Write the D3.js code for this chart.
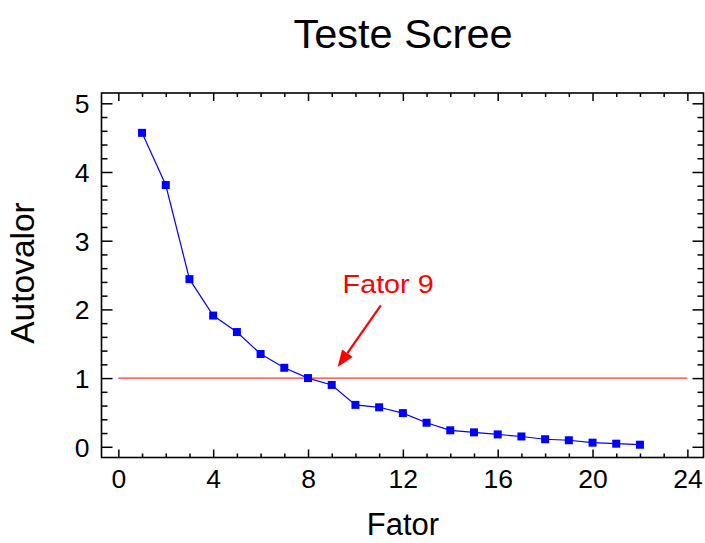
<!DOCTYPE html>
<html>
<head>
<meta charset="utf-8">
<script src="https://cdn.jsdelivr.net/npm/d3@7"></script>
<style>
  body { margin: 0; background: #fff; }
  text { font-family: "Liberation Sans", Arial, sans-serif; }
</style>
</head>
<body>
<div id="chart"></div>
<script>
// scree test data
const fatores = [1, 2, 3, 4, 5, 6, 7, 8, 9, 10, 11, 12, 13, 14, 15, 16, 17, 18, 19, 20, 21, 22];
const autovalores = [4.57, 3.81, 2.44, 1.91, 1.67, 1.35, 1.15, 1.0, 0.90, 0.61, 0.575, 0.49,
                     0.35, 0.24, 0.21, 0.18, 0.15, 0.11, 0.095, 0.06, 0.045, 0.03];
const xTicks = [0, 4, 8, 12, 16, 20, 24];
const yTicks = [0, 1, 2, 3, 4, 5];
const linhaCorte = [{ x: 0, y: 1 }, { x: 24, y: 1 }];
const seta = { from: [11.07, 2.06], to: [9.25, 1.16] };
const rotulo = { x: 9.46, y: 2.24, text: "Fator 9" };

const width = 705, height = 543;
const frame = { left: 101.5, top: 93, right: 703.5, bottom: 457.5 };

const svg = d3.select("#chart").append("svg")
  .attr("width", width)
  .attr("height", height);

const x = d3.scaleLinear()
  .domain([-0.71, 24.68])
  .range([frame.left, frame.right]);

const y = d3.scaleLinear()
  .domain([-0.156, 5.15])
  .range([frame.bottom, frame.top]);

const xMinor = d3.range(0, 25).filter(v => v % 4 !== 0);
const yMinor = d3.range(0, 26).map(v => v / 5).filter(v => Math.abs(v - Math.round(v)) > 1e-6);

// ticks on all four sides, pointing inwards
function ticks(axis, scale, values, size, labels) {
  return axis(scale).tickValues(values).tickSize(-size).tickSizeOuter(0)
    .tickPadding(labels ? 12 : 0)
    .tickFormat(labels ? d3.format("d") : "");
}

const gBottom = svg.append("g").attr("transform", `translate(0,${frame.bottom})`);
gBottom.append("g").call(ticks(d3.axisBottom, x, xMinor, 4, false));
gBottom.append("g").call(ticks(d3.axisBottom, x, xTicks, 8, true));

const gTop = svg.append("g").attr("transform", `translate(0,${frame.top})`);
gTop.append("g").call(ticks(d3.axisTop, x, xMinor, 4, false));
gTop.append("g").call(ticks(d3.axisTop, x, xTicks, 8, false));

const gLeft = svg.append("g").attr("transform", `translate(${frame.left},0)`);
gLeft.append("g").call(ticks(d3.axisLeft, y, yMinor, 6, false));
gLeft.append("g").call(ticks(d3.axisLeft, y, yTicks, 11, true));

const gRight = svg.append("g").attr("transform", `translate(${frame.right},0)`);
gRight.append("g").call(ticks(d3.axisRight, y, yMinor, 6, false));
gRight.append("g").call(ticks(d3.axisRight, y, yTicks, 11, false));

svg.selectAll(".domain").remove();
svg.selectAll(".tick line").attr("stroke", "#000").attr("stroke-width", 1.5);
svg.selectAll(".tick text")
  .attr("font-size", 26.5)
  .attr("font-family", "Liberation Sans, Arial, sans-serif")
  .attr("fill", "#000");
gLeft.selectAll(".tick text").attr("dy", "0.36em");

svg.append("rect")
  .attr("x", frame.left)
  .attr("y", frame.top)
  .attr("width", frame.right - frame.left)
  .attr("height", frame.bottom - frame.top)
  .attr("fill", "none")
  .attr("stroke", "#000")
  .attr("stroke-width", 1.6);

// reference line at eigenvalue 1
svg.append("path")
  .datum(linhaCorte)
  .attr("fill", "none")
  .attr("stroke", "#ff3333")
  .attr("stroke-width", 1.3)
  .attr("d", d3.line().x(d => x(d.x)).y(d => y(d.y)));

const data = fatores.map((f, i) => ({ f, v: autovalores[i] }));

svg.append("path")
  .datum(data)
  .attr("fill", "none")
  .attr("stroke", "#0000ff")
  .attr("stroke-width", 1.2)
  .attr("d", d3.line().x(d => x(d.f)).y(d => y(d.v)));

const s = 8;
svg.append("g").selectAll("rect")
  .data(data)
  .join("rect")
  .attr("x", d => x(d.f) - s / 2)
  .attr("y", d => y(d.v) - s / 2)
  .attr("width", s)
  .attr("height", s)
  .attr("fill", "#0000ff");

// annotation arrow
const x1 = x(seta.from[0]), y1 = y(seta.from[1]);
const x2 = x(seta.to[0]), y2 = y(seta.to[1]);
const ang = Math.atan2(y2 - y1, x2 - x1);
const headLen = 17, headW = 6.5;
const bx = x2 - headLen * Math.cos(ang), by = y2 - headLen * Math.sin(ang);

svg.append("line")
  .attr("x1", x1).attr("y1", y1)
  .attr("x2", bx).attr("y2", by)
  .attr("stroke", "#ff0000")
  .attr("stroke-width", 2.2);

svg.append("path")
  .attr("d", d3.line()([
    [x2, y2],
    [bx + headW * Math.sin(ang), by - headW * Math.cos(ang)],
    [bx - headW * Math.sin(ang), by + headW * Math.cos(ang)]
  ]) + "Z")
  .attr("fill", "#ff0000");

svg.append("text")
  .attr("x", x(rotulo.x))
  .attr("y", y(rotulo.y))
  .attr("font-size", 26)
  .attr("fill", "#ff0000")
  .attr("textLength", 91)
  .attr("lengthAdjust", "spacingAndGlyphs")
  .text(rotulo.text);

// titles
svg.append("text")
  .attr("x", 403)
  .attr("y", 48)
  .attr("text-anchor", "middle")
  .attr("font-size", 41.5)
  .text("Teste Scree");

svg.append("text")
  .attr("x", 403)
  .attr("y", 535)
  .attr("text-anchor", "middle")
  .attr("font-size", 31)
  .text("Fator");

svg.append("text")
  .attr("transform", "translate(34,273) rotate(-90)")
  .attr("text-anchor", "middle")
  .attr("font-size", 33.5)
  .text("Autovalor");
</script>
</body>
</html>
